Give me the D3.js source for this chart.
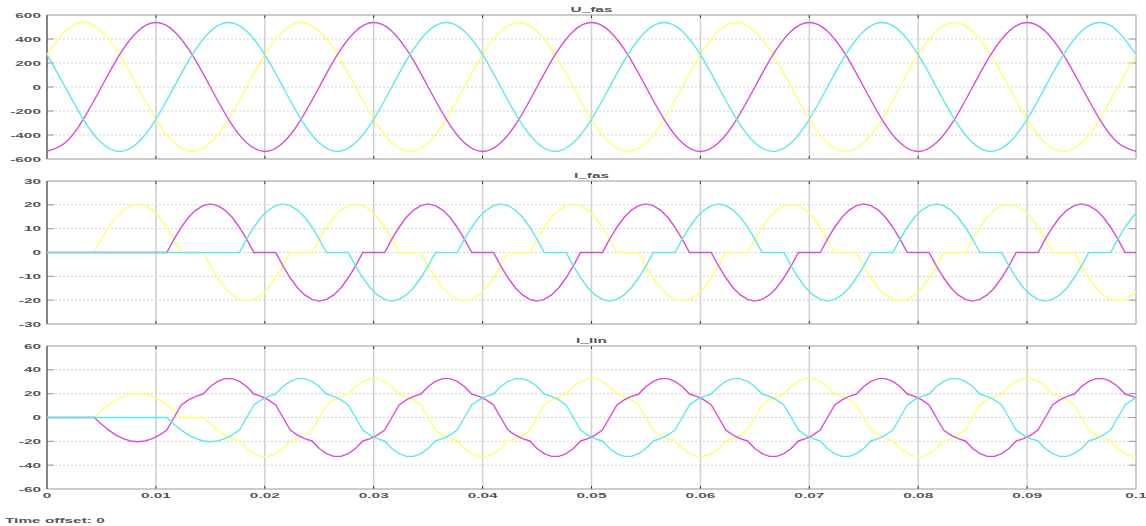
<!DOCTYPE html>
<html><head><meta charset="utf-8">
<title>Scope</title>
<script src="https://cdn.jsdelivr.net/npm/d3@7"></script>
<style>
  body { margin: 0; background: #fff; }
  text { font-family: "Liberation Sans", Arial, sans-serif; font-size: 7px; font-weight: bold; fill: #555; }
</style>
</head>
<body>
<svg id="chart" width="1146" height="526"></svg>
<script>
// x ticks (seconds)
const xTicks = [0, 0.01, 0.02, 0.03, 0.04, 0.05, 0.06, 0.07, 0.08, 0.09, 0.1];
const xTickLabels = ["0", "0.01", "0.02", "0.03", "0.04", "0.05", "0.06", "0.07", "0.08", "0.09", "0.1"];

const uTicks = [600, 400, 200, 0, -200, -400, -600];
const iFasTicks = [30, 20, 10, 0, -10, -20, -30];
const iLinTicks = [60, 40, 20, 0, -20, -40, -60];

// voltages, sampled every 1/600 s
const uStep = 1 / 600;
const uYellow = [269, 465, 537, 465, 269, 0, -269, -465, -537, -465, -269, 0,
  269, 465, 537, 465, 269, 0, -269, -465, -537, -465, -269, 0,
  269, 465, 537, 465, 269, 0, -269, -465, -537, -465, -269, 0,
  269, 465, 537, 465, 269, 0, -269, -465, -537, -465, -269, 0,
  269, 465, 537, 465, 269, 0, -269, -465, -537, -465, -269, 0, 269];
const uMagenta = [-537, -465, -269, 0, 269, 465, 537, 465, 269, 0, -269, -465,
  -537, -465, -269, 0, 269, 465, 537, 465, 269, 0, -269, -465,
  -537, -465, -269, 0, 269, 465, 537, 465, 269, 0, -269, -465,
  -537, -465, -269, 0, 269, 465, 537, 465, 269, 0, -269, -465,
  -537, -465, -269, 0, 269, 465, 537, 465, 269, 0, -269, -465, -537];
const uCyan = [269, 0, -269, -465, -537, -465, -269, 0, 269, 465, 537, 465,
  269, 0, -269, -465, -537, -465, -269, 0, 269, 465, 537, 465,
  269, 0, -269, -465, -537, -465, -269, 0, 269, 465, 537, 465,
  269, 0, -269, -465, -537, -465, -269, 0, 269, 465, 537, 465,
  269, 0, -269, -465, -537, -465, -269, 0, 269, 465, 537, 465, 269];

// currents: t = 0, then every 1/1500 s starting at 1/3000, then 0.1
const iTime = [0].concat(d3.range(150).map(j => (2 * j + 1) / 3000), [0.1]);

const iFasYellow = [0,
  0, 0, 0, 0, 0, 0, 0, 5.6, 10.6, 14.8, 17.8, 19.7, 20.4, 19.7, 17.8,
  14.8, 10.6, 5.6, 0, 0, 0, 0, -5.6, -10.6, -14.8, -17.8, -19.7, -20.4, -19.7, -17.8,
  -14.8, -10.6, -5.6, 0, 0, 0, 0, 5.6, 10.6, 14.8, 17.8, 19.7, 20.4, 19.7, 17.8,
  14.8, 10.6, 5.6, 0, 0, 0, 0, -5.6, -10.6, -14.8, -17.8, -19.7, -20.4, -19.7, -17.8,
  -14.8, -10.6, -5.6, 0, 0, 0, 0, 5.6, 10.6, 14.8, 17.8, 19.7, 20.4, 19.7, 17.8,
  14.8, 10.6, 5.6, 0, 0, 0, 0, -5.6, -10.6, -14.8, -17.8, -19.7, -20.4, -19.7, -17.8,
  -14.8, -10.6, -5.6, 0, 0, 0, 0, 5.6, 10.6, 14.8, 17.8, 19.7, 20.4, 19.7, 17.8,
  14.8, 10.6, 5.6, 0, 0, 0, 0, -5.6, -10.6, -14.8, -17.8, -19.7, -20.4, -19.7, -17.8,
  -14.8, -10.6, -5.6, 0, 0, 0, 0, 5.6, 10.6, 14.8, 17.8, 19.7, 20.4, 19.7, 17.8,
  14.8, 10.6, 5.6, 0, 0, 0, 0, -5.6, -10.6, -14.8, -17.8, -19.7, -20.4, -19.7, -17.8,
  -16.4];
const iFasMagenta = [0,
  0, 0, 0, 0, 0, 0, 0, 0, 0, 0, 0, 0, 0, 0, 0,
  0, 0, 5.6, 10.6, 14.8, 17.8, 19.7, 20.4, 19.7, 17.8, 14.8, 10.6, 5.6, 0, 0,
  0, 0, -5.6, -10.6, -14.8, -17.8, -19.7, -20.4, -19.7, -17.8, -14.8, -10.6, -5.6, 0, 0,
  0, 0, 5.6, 10.6, 14.8, 17.8, 19.7, 20.4, 19.7, 17.8, 14.8, 10.6, 5.6, 0, 0,
  0, 0, -5.6, -10.6, -14.8, -17.8, -19.7, -20.4, -19.7, -17.8, -14.8, -10.6, -5.6, 0, 0,
  0, 0, 5.6, 10.6, 14.8, 17.8, 19.7, 20.4, 19.7, 17.8, 14.8, 10.6, 5.6, 0, 0,
  0, 0, -5.6, -10.6, -14.8, -17.8, -19.7, -20.4, -19.7, -17.8, -14.8, -10.6, -5.6, 0, 0,
  0, 0, 5.6, 10.6, 14.8, 17.8, 19.7, 20.4, 19.7, 17.8, 14.8, 10.6, 5.6, 0, 0,
  0, 0, -5.6, -10.6, -14.8, -17.8, -19.7, -20.4, -19.7, -17.8, -14.8, -10.6, -5.6, 0, 0,
  0, 0, 5.6, 10.6, 14.8, 17.8, 19.7, 20.4, 19.7, 17.8, 14.8, 10.6, 5.6, 0, 0,
  0];
const iFasCyan = [0,
  0, 0, 0, 0, 0, 0, 0, 0, 0, 0, 0, 0, 0, 0, 0,
  0, 0, 0, 0, 0, 0, 0, 0, 0, 0, 0, 0, 5.6, 10.6, 14.8,
  17.8, 19.7, 20.4, 19.7, 17.8, 14.8, 10.6, 5.6, 0, 0, 0, 0, -5.6, -10.6, -14.8,
  -17.8, -19.7, -20.4, -19.7, -17.8, -14.8, -10.6, -5.6, 0, 0, 0, 0, 5.6, 10.6, 14.8,
  17.8, 19.7, 20.4, 19.7, 17.8, 14.8, 10.6, 5.6, 0, 0, 0, 0, -5.6, -10.6, -14.8,
  -17.8, -19.7, -20.4, -19.7, -17.8, -14.8, -10.6, -5.6, 0, 0, 0, 0, 5.6, 10.6, 14.8,
  17.8, 19.7, 20.4, 19.7, 17.8, 14.8, 10.6, 5.6, 0, 0, 0, 0, -5.6, -10.6, -14.8,
  -17.8, -19.7, -20.4, -19.7, -17.8, -14.8, -10.6, -5.6, 0, 0, 0, 0, 5.6, 10.6, 14.8,
  17.8, 19.7, 20.4, 19.7, 17.8, 14.8, 10.6, 5.6, 0, 0, 0, 0, -5.6, -10.6, -14.8,
  -17.8, -19.7, -20.4, -19.7, -17.8, -14.8, -10.6, -5.6, 0, 0, 0, 0, 5.6, 10.6, 14.8,
  16.4];

const iLinYellow = [0,
  0, 0, 0, 0, 0, 0, 0, 5.6, 10.6, 14.8, 17.8, 19.7, 20.4, 19.7, 17.8,
  14.8, 10.6, 5.6, 0, 0, 0, 0, -5.6, -10.6, -14.8, -17.8, -19.7, -26, -30.3, -32.6,
  -32.6, -30.3, -26, -19.7, -17.8, -14.8, -10.6, 0, 10.6, 14.8, 17.8, 19.7, 26, 30.3, 32.6,
  32.6, 30.3, 26, 19.7, 17.8, 14.8, 10.6, 0, -10.6, -14.8, -17.8, -19.7, -26, -30.3, -32.6,
  -32.6, -30.3, -26, -19.7, -17.8, -14.8, -10.6, 0, 10.6, 14.8, 17.8, 19.7, 26, 30.3, 32.6,
  32.6, 30.3, 26, 19.7, 17.8, 14.8, 10.6, 0, -10.6, -14.8, -17.8, -19.7, -26, -30.3, -32.6,
  -32.6, -30.3, -26, -19.7, -17.8, -14.8, -10.6, 0, 10.6, 14.8, 17.8, 19.7, 26, 30.3, 32.6,
  32.6, 30.3, 26, 19.7, 17.8, 14.8, 10.6, 0, -10.6, -14.8, -17.8, -19.7, -26, -30.3, -32.6,
  -32.6, -30.3, -26, -19.7, -17.8, -14.8, -10.6, 0, 10.6, 14.8, 17.8, 19.7, 26, 30.3, 32.6,
  32.6, 30.3, 26, 19.7, 17.8, 14.8, 10.6, 0, -10.6, -14.8, -17.8, -19.7, -26, -30.3, -32.6,
  -32.8];
const iLinMagenta = [0,
  0, 0, 0, 0, 0, 0, 0, -5.6, -10.6, -14.8, -17.8, -19.7, -20.4, -19.7, -17.8,
  -14.8, -10.6, 0, 10.6, 14.8, 17.8, 19.7, 26, 30.3, 32.6, 32.6, 30.3, 26, 19.7, 17.8,
  14.8, 10.6, 0, -10.6, -14.8, -17.8, -19.7, -26, -30.3, -32.6, -32.6, -30.3, -26, -19.7, -17.8,
  -14.8, -10.6, 0, 10.6, 14.8, 17.8, 19.7, 26, 30.3, 32.6, 32.6, 30.3, 26, 19.7, 17.8,
  14.8, 10.6, 0, -10.6, -14.8, -17.8, -19.7, -26, -30.3, -32.6, -32.6, -30.3, -26, -19.7, -17.8,
  -14.8, -10.6, 0, 10.6, 14.8, 17.8, 19.7, 26, 30.3, 32.6, 32.6, 30.3, 26, 19.7, 17.8,
  14.8, 10.6, 0, -10.6, -14.8, -17.8, -19.7, -26, -30.3, -32.6, -32.6, -30.3, -26, -19.7, -17.8,
  -14.8, -10.6, 0, 10.6, 14.8, 17.8, 19.7, 26, 30.3, 32.6, 32.6, 30.3, 26, 19.7, 17.8,
  14.8, 10.6, 0, -10.6, -14.8, -17.8, -19.7, -26, -30.3, -32.6, -32.6, -30.3, -26, -19.7, -17.8,
  -14.8, -10.6, 0, 10.6, 14.8, 17.8, 19.7, 26, 30.3, 32.6, 32.6, 30.3, 26, 19.7, 17.8,
  16.4];
const iLinCyan = [0,
  0, 0, 0, 0, 0, 0, 0, 0, 0, 0, 0, 0, 0, 0, 0,
  0, 0, -5.6, -10.6, -14.8, -17.8, -19.7, -20.4, -19.7, -17.8, -14.8, -10.6, 0, 10.6, 14.8,
  17.8, 19.7, 26, 30.3, 32.6, 32.6, 30.3, 26, 19.7, 17.8, 14.8, 10.6, 0, -10.6, -14.8,
  -17.8, -19.7, -26, -30.3, -32.6, -32.6, -30.3, -26, -19.7, -17.8, -14.8, -10.6, 0, 10.6, 14.8,
  17.8, 19.7, 26, 30.3, 32.6, 32.6, 30.3, 26, 19.7, 17.8, 14.8, 10.6, 0, -10.6, -14.8,
  -17.8, -19.7, -26, -30.3, -32.6, -32.6, -30.3, -26, -19.7, -17.8, -14.8, -10.6, 0, 10.6, 14.8,
  17.8, 19.7, 26, 30.3, 32.6, 32.6, 30.3, 26, 19.7, 17.8, 14.8, 10.6, 0, -10.6, -14.8,
  -17.8, -19.7, -26, -30.3, -32.6, -32.6, -30.3, -26, -19.7, -17.8, -14.8, -10.6, 0, 10.6, 14.8,
  17.8, 19.7, 26, 30.3, 32.6, 32.6, 30.3, 26, 19.7, 17.8, 14.8, 10.6, 0, -10.6, -14.8,
  -17.8, -19.7, -26, -30.3, -32.6, -32.6, -30.3, -26, -19.7, -17.8, -14.8, -10.6, 0, 10.6, 14.8,
  16.4];

const colors = ["#ffff70", "#d84cd8", "#5ee8e8"];

const uTime = uYellow.map((_, i) => i * uStep);

const panels = [
  { title: "U_fas", top: 15, bottom: 159, ticks: uTicks, time: uTime, curve: d3.curveNatural,
    series: [uYellow, uMagenta, uCyan] },
  { title: "I_fas", top: 181, bottom: 324, ticks: iFasTicks, time: iTime, curve: d3.curveLinear,
    series: [iFasYellow, iFasMagenta, iFasCyan] },
  { title: "I_lin", top: 346, bottom: 489, ticks: iLinTicks, time: iTime, curve: d3.curveLinear,
    series: [iLinYellow, iLinMagenta, iLinCyan] }
];

const svg = d3.select("#chart");
const x = d3.scaleLinear().domain([0, 0.1]).range([47, 1136]);
const sx = 2.2; // the scope's font is drawn stretched

function label(g, px, py, str, anchor) {
  g.append("text")
    .attr("transform", `translate(${px},${py}) scale(${sx},1)`)
    .attr("text-anchor", anchor)
    .text(str);
}

panels.forEach((p, pi) => {
  const y = d3.scaleLinear().domain([d3.min(p.ticks), d3.max(p.ticks)]).range([p.bottom, p.top]);
  const g = svg.append("g");
  const x0 = x.range()[0], x1 = x.range()[1];

  // grid
  g.selectAll(".vgrid").data(xTicks.slice(1, -1)).enter().append("line")
    .attr("x1", d => x(d)).attr("x2", d => x(d))
    .attr("y1", p.top).attr("y2", p.bottom)
    .attr("stroke", "#d0d0d0").attr("stroke-width", 1.5);
  g.selectAll(".hgrid").data(p.ticks.slice(1, -1)).enter().append("line")
    .attr("x1", x0).attr("x2", x1)
    .attr("y1", d => y(d)).attr("y2", d => y(d))
    .attr("stroke", "#c8c8c8").attr("stroke-width", 0.8).attr("stroke-dasharray", "2,2");

  // tick marks
  g.selectAll(".xt").data(xTicks.slice(1, -1)).enter().append("path")
    .attr("d", d => `M${x(d)},${p.top}v3M${x(d)},${p.bottom}v-3`)
    .attr("stroke", "#333").attr("stroke-width", 1);
  g.selectAll(".yt").data(p.ticks.slice(1, -1)).enter().append("path")
    .attr("d", d => `M${x0},${y(d)}h7M${x1},${y(d)}h-7`)
    .attr("stroke", "#999").attr("stroke-width", 1);

  // frame
  g.append("path")
    .attr("d", `M${x0},${p.top}H${x1}V${p.bottom}H${x0}`)
    .attr("fill", "none").attr("stroke", "#999").attr("stroke-width", 1);
  g.append("line")
    .attr("x1", x0).attr("x2", x0).attr("y1", p.top).attr("y2", p.bottom)
    .attr("stroke", "#777").attr("stroke-width", 1.8);

  // signals
  const line = d3.line()
    .x((d, i) => x(p.time[i]))
    .y(d => y(d))
    .curve(p.curve);
  p.series.forEach((s, si) => {
    g.append("path")
      .attr("d", line(s))
      .attr("fill", "none")
      .attr("stroke", colors[si])
      .attr("stroke-width", 1.4);
  });

  // labels
  label(g, (x0 + x1) / 2, p.top - 3, p.title, "middle");
  p.ticks.forEach(t => label(g, 41, y(t) + 2.5, String(t), "end"));
  if (pi === panels.length - 1) {
    xTicks.forEach((t, i) => label(g, x(t), p.bottom + 8.5, xTickLabels[i], "middle"));
  }
});

label(svg, 5, 523, "Time offset: 0", "start");
</script>
</body>
</html>
